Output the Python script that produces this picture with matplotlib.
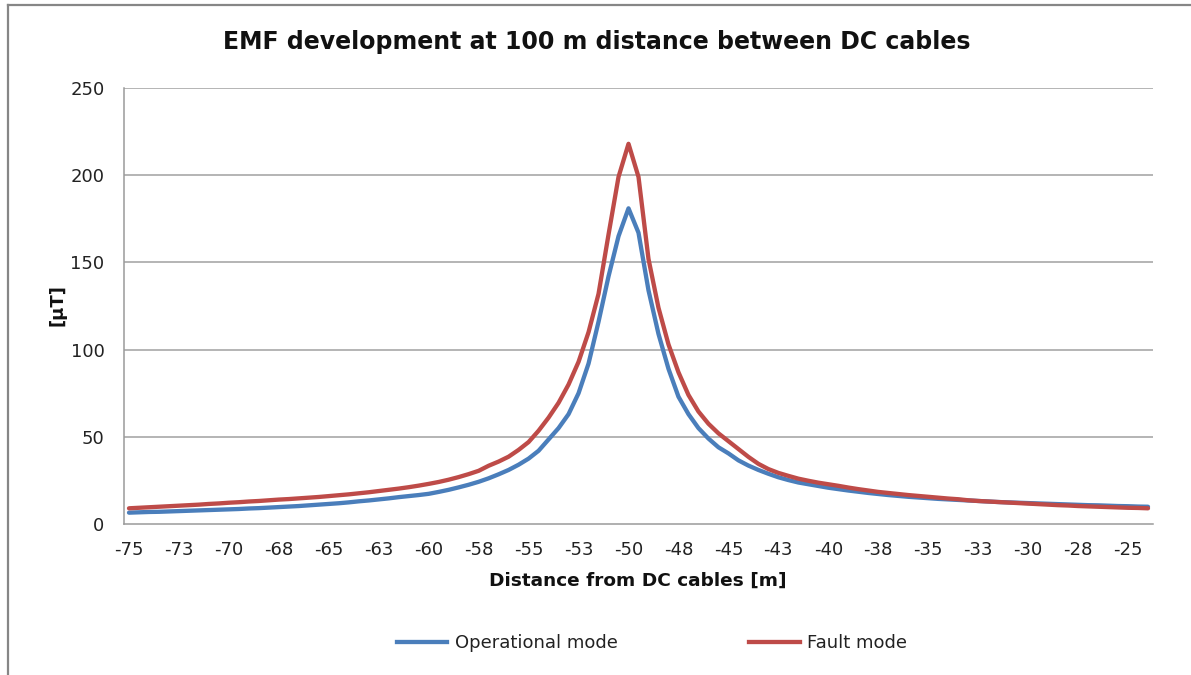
import numpy as np
import matplotlib
matplotlib.use("Agg")
import matplotlib.pyplot as plt
from matplotlib.lines import Line2D

# ---- data ----
distance = [-75 + 0.5 * i for i in range(103)]  # -75 ... -24 m, 0.5 m step

operational = [
    6.5, 6.7, 6.9, 7.0, 7.2, 7.4, 7.6, 7.8, 8.0, 8.2,
    8.4, 8.6, 8.9, 9.1, 9.4, 9.7, 10.0, 10.3, 10.7, 11.1,
    11.5, 11.9, 12.4, 13.0, 13.5, 14.1, 14.7, 15.4, 16.0, 16.6,
    17.3, 18.4, 19.6, 21.0, 22.5, 24.2, 26.2, 28.5, 31.0, 34.0,
    37.5, 42.0, 48.5, 55.0, 63.0, 75.0, 92.0, 116.0, 142.0, 165.0,
    181.0,
    167.0, 134.0, 109.0, 89.0, 73.0, 63.0, 55.0, 49.0, 44.0, 40.5,
    36.5, 33.5, 31.0, 28.8, 26.8, 25.2, 23.8, 22.8, 21.8, 20.8,
    20.0, 19.2, 18.5, 17.8, 17.2, 16.6, 16.1, 15.6, 15.2, 14.8,
    14.4, 14.1, 13.8, 13.5, 13.2, 12.9, 12.6, 12.4, 12.2, 12.0,
    11.8, 11.6, 11.4, 11.2, 11.0, 10.8, 10.7, 10.5, 10.3, 10.2,
    10.0, 9.9,
]

fault = [
    9.0, 9.3, 9.6, 9.9, 10.2, 10.5, 10.8, 11.1, 11.5, 11.8,
    12.2, 12.5, 12.9, 13.2, 13.6, 14.0, 14.3, 14.7, 15.1, 15.5,
    16.0, 16.5, 17.0, 17.6, 18.2, 18.9, 19.6, 20.3, 21.1, 22.0,
    23.0, 24.1, 25.4, 26.9, 28.6, 30.5, 33.4, 35.8, 38.6, 42.5,
    47.0, 53.5, 61.0, 69.5, 80.0, 93.0, 110.0, 132.0, 166.0, 199.0,
    218.0,
    199.0, 152.0, 124.0, 103.0, 87.0, 74.0, 64.5, 57.5, 52.0, 47.5,
    43.0, 38.5, 34.5, 31.5, 29.3, 27.6, 26.0, 24.8, 23.7, 22.8,
    21.9, 20.9, 20.0, 19.2, 18.4, 17.8, 17.2, 16.6, 16.1, 15.6,
    15.1, 14.6, 14.2, 13.6, 13.2, 12.9, 12.6, 12.3, 12.0, 11.7,
    11.4, 11.1, 10.8, 10.6, 10.3, 10.1, 9.9, 9.7, 9.5, 9.3,
    9.2, 9.0,
]

tick_positions = [-75 + 2.5 * i for i in range(21)]
tick_labels = ["-75", "-73", "-70", "-68", "-65", "-63", "-60", "-58", "-55", "-53",
               "-50", "-48", "-45", "-43", "-40", "-38", "-35", "-33", "-30", "-28", "-25"]
y_ticks = [0, 50, 100, 150, 200, 250]

title = "EMF development at 100 m distance between DC cables"
x_label = "Distance from DC cables [m]"
y_label = "[μT]"
series_names = ["Operational mode", "Fault mode"]

BLUE = "#4A7EBB"
RED = "#BE4B48"
GRID = "#A0A0A0"

plt.rcParams['font.family'] = ['DejaVu Sans']

W, H = 1191, 675
fig = plt.figure(figsize=(W / 100, H / 100), dpi=100)
fig.patch.set_facecolor("white")

# outer chart border (top and left visible)
fig.add_artist(Line2D([8 / W, 1.0], [1 - 5 / H, 1 - 5 / H], transform=fig.transFigure,
                      color="#868686", lw=1.6))
fig.add_artist(Line2D([8 / W, 8 / W], [0.0, 1 - 5 / H], transform=fig.transFigure,
                      color="#868686", lw=1.6))

left, right, top, bottom = 124, 1153, 88, 524
ax = fig.add_axes([left / W, 1 - bottom / H, (right - left) / W, (bottom - top) / H])

ax.plot(distance, operational, color=BLUE, lw=3.1, solid_joinstyle="round",
        solid_capstyle="round", label=series_names[0], zorder=3)
ax.plot(distance, fault, color=RED, lw=3.1, solid_joinstyle="round",
        solid_capstyle="round", label=series_names[1], zorder=4)

ax.set_xlim(-75.25, -23.75)
ax.set_ylim(0, 250)
ax.set_xticks(tick_positions)
ax.set_xticklabels(tick_labels)
ax.set_yticks(y_ticks)
ax.tick_params(axis="both", length=0, labelsize=13, colors="#222222")
ax.tick_params(axis="x", pad=12)
ax.tick_params(axis="y", pad=14)

for v in y_ticks[1:]:
    ax.axhline(v, color=GRID, lw=1.1, zorder=1)

for s in ["top", "right"]:
    ax.spines[s].set_visible(False)
for s in ["left", "bottom"]:
    ax.spines[s].set_color("#9A9A9A")
    ax.spines[s].set_linewidth(1.1)

fig.text(597 / W, 1 - 42 / H, title, ha="center", va="center",
         fontsize=17, fontweight="bold", color="#111111")
fig.text(638 / W, 1 - 581 / H, x_label, ha="center", va="center",
         fontsize=13.3, fontweight="bold", color="#111111")
fig.text(58 / W, 1 - 305 / H, y_label, ha="center", va="center", rotation=90,
         fontsize=13, fontweight="bold", color="#111111")

handles = [Line2D([], [], color=BLUE, lw=3.1), Line2D([], [], color=RED, lw=3.1)]
leg = fig.legend(handles, series_names, loc="center", bbox_to_anchor=(652 / W, 1 - 643 / H),
                 ncol=2, frameon=False, fontsize=13, handlelength=2.8,
                 handletextpad=0.4, columnspacing=7.3)
for t in leg.get_texts():
    t.set_color("#222222")

fig.savefig("out.png", dpi=100, facecolor="white")
